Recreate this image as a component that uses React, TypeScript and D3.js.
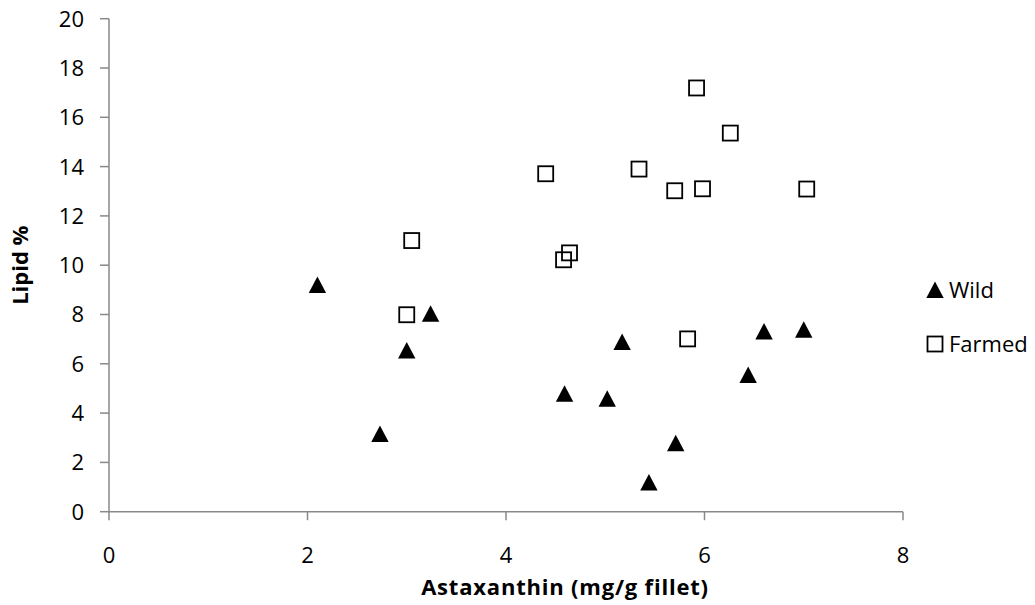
import * as d3 from 'd3';

// values
const wildX = [2.1, 2.73, 3.0, 3.24, 4.59, 5.02, 5.17, 5.44, 5.71, 6.44, 6.6, 7.0];
const wildY = [9.2, 3.15, 6.54, 8.03, 4.78, 4.58, 6.88, 1.18, 2.78, 5.55, 7.31, 7.38];
const farmedX = [3.0, 3.05, 4.4, 4.58, 4.64, 5.34, 5.7, 5.83, 5.92, 5.98, 6.26, 7.03];
const farmedY = [7.99, 11.0, 13.71, 10.22, 10.5, 13.9, 13.02, 7.01, 17.19, 13.1, 15.36, 13.09];
const xTicks = [0, 2, 4, 6, 8];
const yTicks = [0, 2, 4, 6, 8, 10, 12, 14, 16, 18, 20];
const seriesNames = ['Wild', 'Farmed'];

const W = 1035;
const H = 605;
const FONT = '"Open Sans", sans-serif';
const AXIS = '#898989';

const triPath = 'M0,-8.5L8.7,8L-8.7,8Z';

export default function App() {
  const x = d3.scaleLinear().domain([0, 8]).range([109, 903]);
  const y = d3.scaleLinear().domain([0, 20]).range([511.7, 18.7]);

  const wild = wildX.map((v, i) => ({ x: v, y: wildY[i] }));
  const farmed = farmedX.map((v, i) => ({ x: v, y: farmedY[i] }));

  return (
    <svg
      width={W}
      height={H}
      style={{ position: 'absolute', left: 0, top: 0, background: '#fff' }}
      fontFamily={FONT}
    >
      {/* axes */}
      <line x1={x(0)} x2={x(0)} y1={y(20)} y2={y(0)} stroke={AXIS} strokeWidth={1.5} />
      <line x1={x(0)} x2={x(8)} y1={y(0)} y2={y(0)} stroke={AXIS} strokeWidth={1.5} />
      {yTicks.map((v) => (
        <g key={`y${v}`}>
          <line x1={x(0) - 9} x2={x(0)} y1={y(v)} y2={y(v)} stroke={AXIS} strokeWidth={1.5} />
          <text x={x(0) - 25} y={y(v)} dy="0.36em" textAnchor="end" fontSize={22} fill="#000">
            {v}
          </text>
        </g>
      ))}
      {xTicks.map((v) => (
        <g key={`x${v}`}>
          <line x1={x(v)} x2={x(v)} y1={y(0)} y2={y(0) + 8.5} stroke={AXIS} strokeWidth={1.5} />
          <text x={x(v)} y={y(0) + 51.5} textAnchor="middle" fontSize={22} fill="#000">
            {v}
          </text>
        </g>
      ))}

      {/* axis titles */}
      <text
        x={565}
        y={595}
        textAnchor="middle"
        fontSize={22}
        fontWeight="bold"
        letterSpacing={0.8}
        fill="#000"
      >
        Astaxanthin (mg/g fillet)
      </text>
      <text
        transform={`translate(28, ${(y(0) + y(20)) / 2}) rotate(-90)`}
        textAnchor="middle"
        fontSize={22}
        fontWeight="bold"
        fill="#000"
      >
        Lipid %
      </text>

      {/* points */}
      {wild.map((d, i) => (
        <path key={`w${i}`} d={triPath} transform={`translate(${x(d.x)},${y(d.y)})`} fill="#000" />
      ))}
      {farmed.map((d, i) => (
        <rect
          key={`f${i}`}
          x={x(d.x) - 7.5}
          y={y(d.y) - 7.5}
          width={15}
          height={15}
          fill="none"
          stroke="#000"
          strokeWidth={1.8}
        />
      ))}

      {/* legend */}
      <path d={triPath} transform="translate(935,290)" fill="#000" />
      <text x={949} y={297.5} fontSize={22} fill="#000">
        {seriesNames[0]}
      </text>
      <rect x={927.5} y={336.5} width={15} height={15} fill="none" stroke="#000" strokeWidth={1.8} />
      <text x={949} y={351.5} fontSize={22} fill="#000">
        {seriesNames[1]}
      </text>
    </svg>
  );
}
